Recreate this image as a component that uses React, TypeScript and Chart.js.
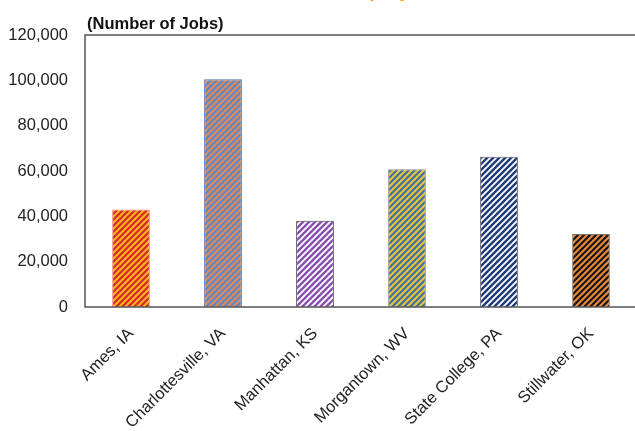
import React, { useEffect, useRef } from "react";
import { Chart, registerables } from "chart.js";

Chart.register(...registerables);

const categories = [
  "Ames, IA",
  "Charlottesville, VA",
  "Manhattan, KS",
  "Morgantown, WV",
  "State College, PA",
  "Stillwater, OK",
];
const jobs = [43000, 100500, 38000, 60800, 66300, 32200];
const yTicks = [0, 20000, 40000, 60000, 80000, 100000, 120000];
const barBase = ["#d8242a", "#5a87c9", "#8750b0", "#3e6ea6", "#1c3a78", "#141414"];
const barStripe = ["#f8b41c", "#e08a58", "#ffffff", "#e6c43a", "#ffffff", "#e8883a"];
const stripeWidth = [2.2, 2.2, 1.9, 2.2, 1.9, 2.2];
const barEdge = ["#e98585", "#4a6fa8", "#444444", "#8a8a8a", "#555555", "#777777"];
const titleText = "Total Employment, 2017";
const subtitleText = "(Number of Jobs)";

function makePattern(bg: string, fg: string, lw: number, size = 6) {
  const c = document.createElement("canvas");
  c.width = size;
  c.height = size;
  const ctx = c.getContext("2d")!;
  ctx.fillStyle = bg;
  ctx.fillRect(0, 0, size, size);
  ctx.strokeStyle = fg;
  ctx.lineWidth = lw;
  ctx.beginPath();
  ctx.moveTo(-1, 1);
  ctx.lineTo(1, -1);
  ctx.moveTo(0, size);
  ctx.lineTo(size, 0);
  ctx.moveTo(size - 1, size + 1);
  ctx.lineTo(size + 1, size - 1);
  ctx.stroke();
  return ctx.createPattern(c, "repeat")!;
}

const framePlugin = {
  id: "frame",
  afterDatasetsDraw(chart: any) {
    const { ctx, chartArea } = chart;
    ctx.save();
    ctx.strokeStyle = "#555555";
    ctx.lineWidth = 1.5;
    ctx.beginPath();
    ctx.moveTo(chartArea.right + 5, chartArea.top);
    ctx.lineTo(chartArea.left, chartArea.top);
    ctx.lineTo(chartArea.left, chartArea.bottom);
    ctx.lineTo(chartArea.right + 5, chartArea.bottom);
    ctx.stroke();
    ctx.restore();
  },
  afterDraw(chart: any) {
    const { ctx, chartArea } = chart;
    ctx.save();
    ctx.fillStyle = "#111111";
    ctx.font = "bold 16.5px 'Liberation Sans', Arial, sans-serif";
    ctx.textAlign = "left";
    ctx.textBaseline = "middle";
    ctx.fillText(subtitleText, chartArea.left + 2, 24);
    ctx.fillStyle = "#f5a623";
    ctx.font = "bold 20px 'Liberation Sans', Arial, sans-serif";
    ctx.textAlign = "center";
    ctx.textBaseline = "alphabetic";
    ctx.fillText(titleText, 400, -3);
    ctx.restore();
  },
};

export default function App() {
  const ref = useRef<HTMLCanvasElement>(null);
  useEffect(() => {
    const canvas = ref.current!;
    const patterns = barBase.map((b, i) => makePattern(b, barStripe[i], stripeWidth[i]));
    const chart = new Chart(canvas, {
      type: "bar",
      data: {
        labels: categories,
        datasets: [
          {
            data: jobs,
            backgroundColor: patterns as any,
            borderColor: barEdge,
            borderWidth: 1,
            barPercentage: 0.41,
            categoryPercentage: 1,
          },
        ],
      },
      options: {
        responsive: false,
        animation: false,
        layout: { padding: { top: 35, right: 3, left: 0, bottom: 0 } },
        plugins: {
          legend: { display: false },
          tooltip: { enabled: false },
          title: { display: false },
        },
        scales: {
          x: {
            grid: { display: false, drawTicks: false },
            border: { display: false },
            afterFit(scale: any) {
              scale.height = 124;
            },
            ticks: {
              autoSkip: false,
              minRotation: 45,
              maxRotation: 45,
              padding: 17,
              color: "#222222",
              font: { family: "'Liberation Sans', Arial, sans-serif", size: 16.5 },
            },
          },
          y: {
            min: 0,
            max: 120000,
            afterBuildTicks(scale: any) {
              scale.ticks = yTicks.map((v) => ({ value: v }));
            },
            afterFit(scale: any) {
              scale.width = 85;
            },
            grid: { display: false, drawTicks: false },
            border: { display: false },
            ticks: {
              padding: 17,
              color: "#222222",
              font: { family: "'Liberation Sans', Arial, sans-serif", size: 16.5 },
              callback: (v: any) => Number(v).toLocaleString("en-US"),
            },
          },
        },
      },
      plugins: [framePlugin],
    });
    return () => chart.destroy();
  }, []);
  return (
    <div
      style={{
        position: "fixed",
        left: 0,
        top: 0,
        width: 635,
        height: 431,
        overflow: "hidden",
        background: "#ffffff",
      }}
    >
      <canvas ref={ref} width={640} height={431} style={{ display: "block" }} />
    </div>
  );
}
